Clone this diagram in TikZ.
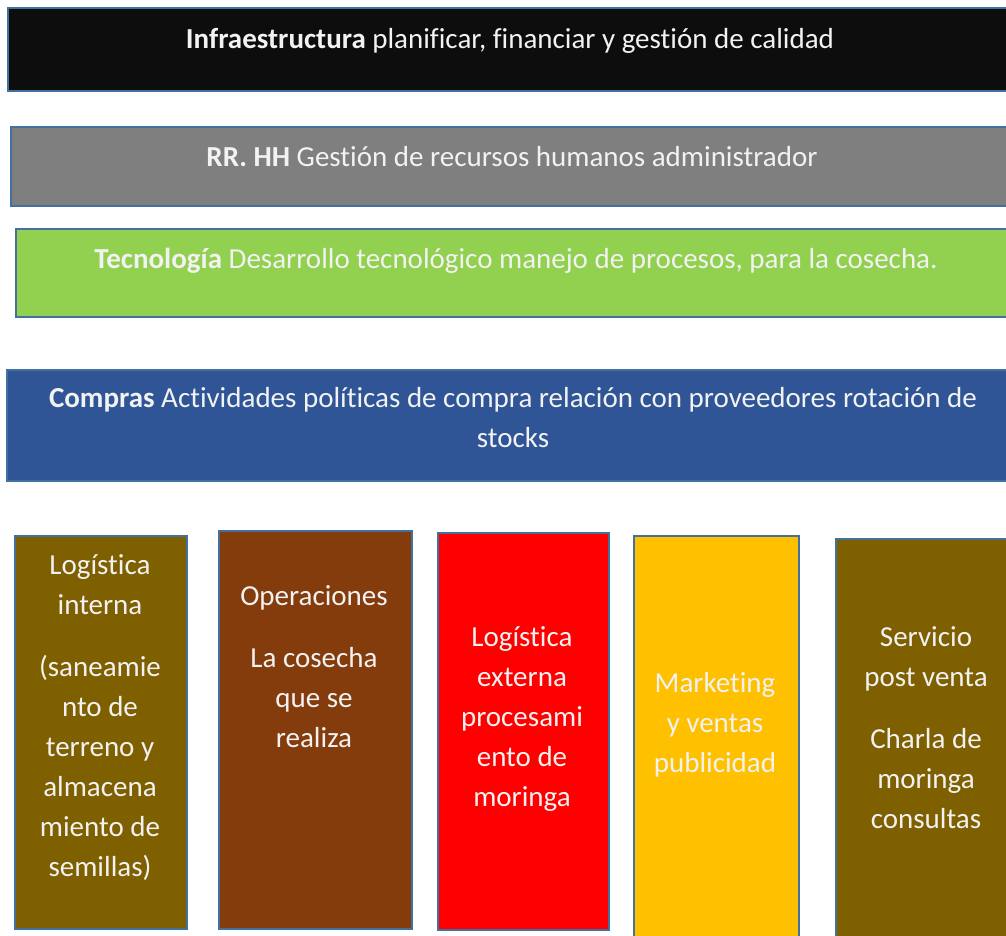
\documentclass[tikz,border=0pt]{standalone}
\usepackage{fontspec}
\setmainfont{Carlito}[Ligatures=CommonOff]
\usetikzlibrary{positioning}
\definecolor{edge}{HTML}{41719C}
\definecolor{infra}{HTML}{0D0D0D}
\definecolor{rrhh}{HTML}{7F7F7F}
\definecolor{tecno}{HTML}{92D050}
\definecolor{compra}{HTML}{2F5597}
\definecolor{olive}{HTML}{7F6000}
\definecolor{rust}{HTML}{843C0C}
\definecolor{redbox}{HTML}{FF0000}
\definecolor{gold}{HTML}{FFC000}
\tikzset{
  bar/.style={draw=edge,line width=2.2,anchor=north west,inner sep=0},
  lbl/.style={text=white!95!black,anchor=base,inner sep=0,align=center,
    font=\fontsize{29}{40}\selectfont},
}
\begin{document}
\begin{tikzpicture}[x=1pt,y=-1pt]
  \useasboundingbox (0,0) rectangle (1006,935);
  \clip (0,0) rectangle (1006,935);
  % SUPPORT ACTIVITIES
  \node[bar,fill=infra,minimum width=1008,minimum height=83] (infra) at (7,7) {};
  \node[bar,fill=rrhh,minimum width=1006,minimum height=79] (rrhh) at (10,126) {};
  \node[bar,fill=tecno,minimum width=1002,minimum height=88] (tecno) at (15,228) {};
  \node[bar,fill=compra,minimum width=1014,minimum height=111] (compra) at (6,369) {};
  \node[lbl] (infraT) at (510,48) {\textbf{Infraestructura} planificar, financiar y gestión de calidad};
  \node[lbl] (rrhhT) at (512,166) {\textbf{RR. HH} Gestión de recursos humanos administrador};
  \node[lbl] (tecnoT) at (516,268) {\textbf{Tecnología} Desarrollo tecnológico manejo de procesos, para la cosecha.};
  % base = last line
  \node[lbl] (compraT) at (513,447) {\textbf{Compras} Actividades políticas de compra relación con proveedores rotación de\\stocks};
  % PRIMARY ACTIVITIES
  \node[bar,fill=olive,minimum width=172,minimum height=393] (login) at (14,535) {};
  \node[bar,fill=rust,minimum width=193,minimum height=398] (oper) at (218,530) {};
  \node[bar,fill=redbox,minimum width=171,minimum height=397] (logex) at (437,532) {};
  \node[bar,fill=gold,minimum width=165,minimum height=410] (mkt) at (633,535) {};
  \node[bar,fill=olive,minimum width=190,minimum height=410] (serv) at (835,538) {};
  \node[lbl] (loginT) at (100,876) {Logística\\interna\\[22pt](saneamie\\nto de\\terreno y\\almacena\\miento de\\semillas)};
  \node[lbl] (operT) at (314,747) {Operaciones\\[22pt]La cosecha\\que se\\realiza};
  \node[lbl] (logexT) at (522,806) {Logística\\externa\\procesami\\ento de\\moringa};
  \node[lbl] (mktT) at (715,772) {Marketing\\y ventas\\publicidad};
  \node[lbl] (servT) at (926,828) {Servicio\\post venta\\[22pt]Charla de\\moringa\\consultas};
\end{tikzpicture}
\end{document}
